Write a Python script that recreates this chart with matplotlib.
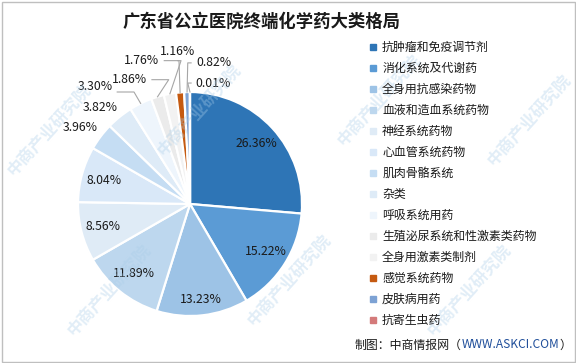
import matplotlib
matplotlib.use("Agg")
import matplotlib.pyplot as plt
from matplotlib.lines import Line2D
from matplotlib.patches import Rectangle
import numpy as np

plt.rcParams['font.family'] = ['Noto Sans CJK SC', 'DejaVu Sans']

categories = ["抗肿瘤和免疫调节剂", "消化系统及代谢药", "全身用抗感染药物", "血液和造血系统药物",
              "神经系统药物", "心血管系统药物", "肌肉骨骼系统", "杂类", "呼吸系统用药",
              "生殖泌尿系统和性激素类药物", "全身用激素类制剂", "感觉系统药物", "皮肤病用药", "抗寄生虫药"]
shares = [26.36, 15.22, 13.23, 11.89, 8.56, 8.04, 3.96, 3.82, 3.30, 1.86, 1.76, 1.16, 0.82, 0.01]
colors = ["#2E75B6", "#5B9BD5", "#9DC3E6", "#BDD7EE", "#DFEBF6", "#D9E8F8", "#C5DDF3", "#DEEBF7",
          "#EEF5FC", "#EBEBEB", "#F2F2F2", "#C55A11", "#7DA2D4", "#D47A7A"]

W, H = 576, 363
fig = plt.figure(figsize=(W / 100, H / 100), dpi=100)

# pie axes: center (190,204) px, radius 112 px
cx, cy, r = 190, 204, 112
ax = fig.add_axes([(cx - r) / W, (H - cy - r) / H, 2 * r / W, 2 * r / H])

wedges, _ = ax.pie(shares, colors=colors, startangle=90, counterclock=False, radius=1,
                   wedgeprops=dict(edgecolor='white', linewidth=1.6))
ax.set_xlim(-1, 1)
ax.set_ylim(-1, 1)
ax.axis('off')

# inside labels
label_fs = 8.8
for i, w in enumerate(wedges[:6]):
    ang = np.deg2rad((w.theta1 + w.theta2) / 2)
    d = 0.8 if i != 2 else 0.86
    ax.text(d * np.cos(ang), d * np.sin(ang), f"{shares[i]:.2f}%", ha='center', va='center',
            fontsize=label_fs, color='#1a1a1a')

# outside labels (layout positions in radius units)
out_pos = {6: (-0.98, 0.68), 7: (-0.80, 0.86), 8: (-0.85, 1.05), 9: (-0.54, 1.11),
           10: (-0.43, 1.28), 11: (-0.11, 1.36), 12: (0.21, 1.26), 13: (0.21, 1.08)}
leader = {8, 9, 10, 11, 12, 13}
for i, (tx, ty) in out_pos.items():
    w = wedges[i]
    ang = np.deg2rad((w.theta1 + w.theta2) / 2)
    ax.text(tx, ty, f"{shares[i]:.2f}%", ha='center', va='center', fontsize=label_fs,
            color='#1a1a1a', clip_on=False)
    if i in leader:
        ex, ey = 1.0 * np.cos(ang), 1.0 * np.sin(ang)
        if i in (12, 13):
            sx, sy = tx - 0.2, ty
            mx, my = sx - 0.03, ty
        elif i == 11:
            sx, sy = tx + 0.0, ty - 0.08
            mx, my = ex - 0.01, ty - 0.08
        else:
            sx, sy = tx + 0.2, ty - (0.05 if i == 8 else 0.0)
            mx, my = sx + 0.15, sy
        ax.plot([sx, mx, ex], [sy, my, ey], color='#A6A6A6', lw=0.8, clip_on=False)

# title
fig.text(262 / W, 1 - 22 / H, "广东省公立医院终端化学药大类格局", ha='center', va='center',
         fontsize=12.5, fontweight='bold', color='#1a1a1a')

# legend
handles = [Line2D([0], [0], marker='s', linestyle='none', markersize=4.2,
                  markerfacecolor=c, markeredgecolor=c) for c in colors]
leg = fig.legend(handles, categories, loc='upper left', bbox_to_anchor=(369 / W, 1 - 41 / H),
                 frameon=False, fontsize=8.6, handlelength=0.6, handletextpad=0.5,
                 labelspacing=0.67, borderpad=0, borderaxespad=0)
for t in leg.get_texts():
    t.set_color('#1a1a1a')

# source
src = fig.text(355 / W, 1 - 345 / H, "制图：中商情报网（", ha='left', va='center', fontsize=8.6,
               color='#1a1a1a')
fig.canvas.draw()
bb = src.get_window_extent()
t2 = fig.text(bb.x1 / W, 1 - 345 / H, "WWW.ASKCI.COM", ha='left', va='center', fontsize=8.6,
              color='#1F4E9A')
fig.canvas.draw()
bb2 = t2.get_window_extent()
fig.text(bb2.x1 / W, 1 - 345 / H, "）", ha='left', va='center', fontsize=8.6, color='#1a1a1a')

# watermarks
wm_pos = [(110, 290), (290, 280), (470, 290), (200, 110), (380, 100), (50, 130), (530, 120)]
for (x, y) in wm_pos:
    fig.text(x / W, 1 - y / H, "中商产业研究院", rotation=48, ha='center', va='center',
             fontsize=12, color='#A9CDE8', alpha=0.35, fontweight='bold', zorder=0.5)

# frame
fig.patches.append(Rectangle((1.5 / W, 1.5 / H), (W - 3) / W, (H - 3) / H, transform=fig.transFigure,
                             fill=False, edgecolor='#BFBFBF', linewidth=1.0))

fig.savefig("out.png", dpi=100)
